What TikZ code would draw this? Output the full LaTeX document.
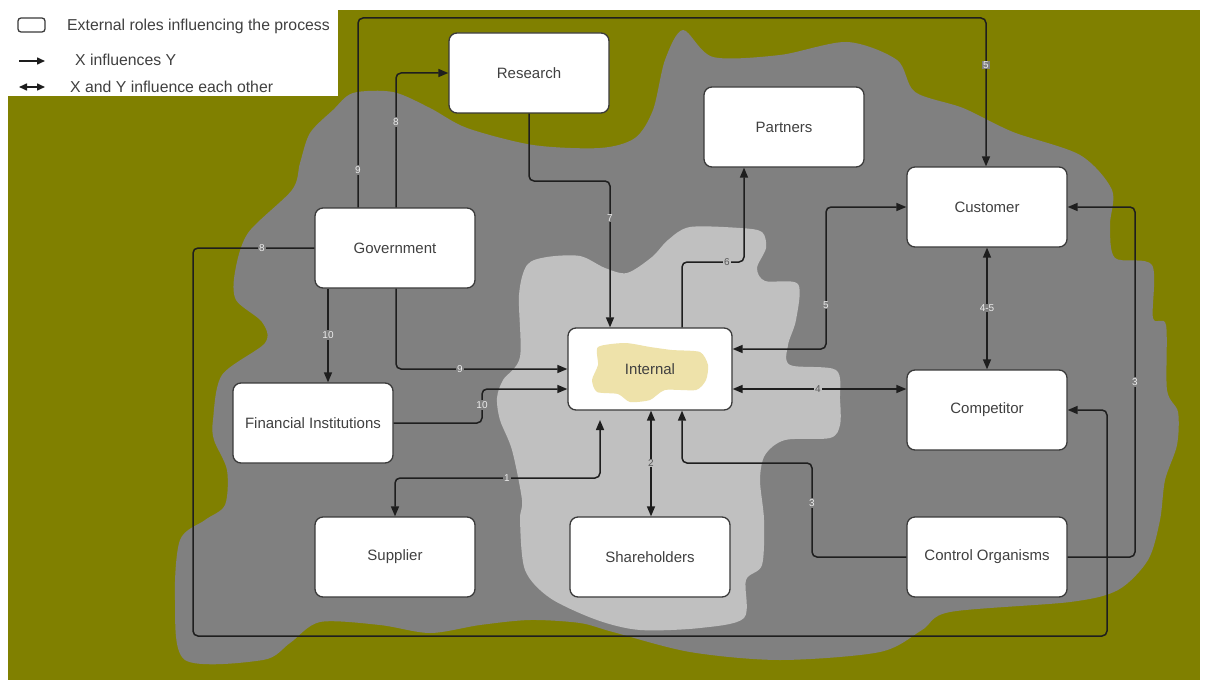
\documentclass[tikz,border=0pt]{standalone}
\usepackage{fontspec}
\setmainfont{Liberation Sans}
\usetikzlibrary{arrows.meta}
\definecolor{myolive}{HTML}{808000}
\definecolor{mygray}{HTML}{808080}
\definecolor{mylight}{HTML}{C0C0C0}
\definecolor{mytan}{HTML}{EEE2AA}
\definecolor{boxline}{HTML}{3A3A3A}
\definecolor{linec}{HTML}{1E1E1E}
\definecolor{txt}{HTML}{404040}
\tikzset{
  box/.style={draw=boxline, line width=1.3pt, fill=white, rounded corners=8pt,
    minimum width=160pt, minimum height=80pt, inner sep=2pt,
    font=\fontsize{15}{18}\selectfont, text=txt},
  conn/.style={draw=linec, line width=1.5pt, rounded corners=5pt},
  arr/.style={conn, -{Triangle[length=10pt,width=8pt]}},
  darr/.style={conn, {Triangle[length=10pt,width=8pt]}-{Triangle[length=10pt,width=8pt]}},
  lbl/.style={font=\fontsize{10}{11}\selectfont, text=white!85!gray, fill=mygray, inner sep=1pt},
  lbll/.style={font=\fontsize{10}{11}\selectfont, text=gray!70!black, fill=mylight, inner sep=1pt},
  legtxt/.style={font=\fontsize{15.8}{18}\selectfont, text=txt, anchor=west, inner sep=0pt}
}
\begin{document}
\begin{tikzpicture}[x=1pt,y=-1pt]
\useasboundingbox (0,0) rectangle (1206,682);
\fill[white] (0,0) rectangle (1206,682);
\fill[myolive] (8,10) rectangle (1200,680);
% dark gray region
\fill[mygray] plot[smooth cycle, tension=0.5] coordinates {
(353,93) (393,92) (430,108) (467,128) (533,145) (600,148) (635,138) (653,110) (665,60) (683,30)
(713,57) (780,55) (847,42) (897,60) (915,92) (963,108) (1013,132) (1080,155) (1112,190) (1110,225)
(1115,258) (1152,265) (1153,318) (1166,325) (1167,390) (1178,412) (1177,445) (1165,480) (1160,520)
(1148,560) (1118,590) (1070,602) (950,612) (922,630) (880,652) (780,660) (690,652) (613,632)
(580,623) (530,620) (480,625) (430,633) (380,625) (320,622) (290,643) (263,660) (185,660)
(175,600) (180,540) (205,520) (225,505) (227,470) (214,440) (213,420) (222,375) (265,343)
(262,322) (236,300) (235,272) (248,233) (292,190) (300,163) (310,133) (333,110)};
% light gray region
\fill[mylight] plot[smooth cycle, tension=0.5] coordinates {
(547,257) (580,256) (605,268) (627,273) (652,257) (668,240) (690,227) (740,228) (762,232)
(766,248) (757,268) (765,281) (798,284) (796,320) (788,345) (790,365) (836,370) (840,400)
(840,425) (830,438) (785,440) (765,455) (760,480) (764,520) (762,565) (746,580) (744,618)
(700,628) (640,630) (597,620) (550,598) (525,570) (520,520) (522,500) (512,450) (500,420)
(497,398) (503,380) (520,357) (519,295) (527,265)};
% legend
\fill[white] (8,10) rectangle (338,96);
\draw[boxline, line width=1.3pt, rounded corners=3pt] (18,18) rectangle (45,32);
\node[legtxt] (lg1) at (67,26) {External roles influencing the process};
\coordinate (la1) at (19,61);
\coordinate (la2) at (45,61);
\draw[conn, -{Triangle[length=8pt,width=7pt]}] (la1) -- (la2);
\node[legtxt] (lg2) at (75,60) {X influences Y};
\coordinate (lb1) at (19,87);
\coordinate (lb2) at (45,87);
\draw[conn, {Triangle[length=8pt,width=7pt]}-{Triangle[length=8pt,width=7pt]}] (lb1) -- (lb2);
\node[legtxt] (lg3) at (70,87) {X and Y influence each other};
% internal background and tan blob
\fill[white, rounded corners=8pt] (568,328) rectangle (732,410);
\fill[mytan] plot[smooth cycle, tension=0.4] coordinates {
(598,347) (625,343) (650,347) (672,350) (700,352) (708,365) (706,380) (696,390) (665,390)
(650,400) (630,402) (618,394) (597,392) (592,380) (598,365)};
% nodes
\node[box] (res) at (529,73) {Research};
\node[box] (par) at (784,127) {Partners};
\node[box] (cus) at (987,207) {Customer};
\node[box] (gov) at (395,248) {Government};
\node[box] (fin) at (313,423) {Financial Institutions};
\node[box, fill=none, minimum width=164pt, minimum height=82pt] (int) at (650,369) {Internal};
\node[box] (com) at (987,410) {Competitor};
\node[box] (sup) at (395,557) {Supplier};
\node[box] (sha) at (650,557) {Shareholders};
\node[box] (con) at (987,557) {Control Organisms};
% waypoints
\coordinate (c1a) at (358,18);
\coordinate (c1b) at (986,18);
\coordinate (c2a) at (396,73);
\coordinate (c3a) at (193,248);
\coordinate (c3b) at (193,636);
\coordinate (c3c) at (1107,636);
\coordinate (c3d) at (1107,410);
\coordinate (c4) at (328,335);
\coordinate (c5) at (396,369);
\coordinate (c6a) at (482,423);
\coordinate (c6b) at (482,389);
\coordinate (c7a) at (529,181);
\coordinate (c7b) at (610,181);
\coordinate (c8a) at (682,262);
\coordinate (c8b) at (744,262);
\coordinate (c9a) at (826,349);
\coordinate (c9b) at (826,207);
\coordinate (c10) at (818,389);
\coordinate (c12a) at (1135,557);
\coordinate (c12b) at (1135,207);
\coordinate (c13a) at (812,557);
\coordinate (c13b) at (812,463);
\coordinate (c13c) at (682,463);
\coordinate (c14a) at (395,478);
\coordinate (c14b) at (600,478);
\coordinate (c14c) at (600,420);
\coordinate (c15) at (651,463);
% connectors
\draw[arr] (gov.north -| c1a) -- (c1a) -- (c1b) -- (cus.north -| c1b);
\draw[arr] (gov.north -| c2a) -- (c2a) -- (res.west);
\draw[arr] (gov.west) -- (c3a) -- (c3b) -- (c3c) -- (c3d) -- (com.east);
\draw[arr] (gov.south -| c4) -- (fin.north -| c4);
\draw[arr] (gov.south -| c5) -- (c5) -- (int.west |- c5);
\draw[arr] (fin.east) -- (c6a) -- (c6b) -- (int.west |- c6b);
\draw[arr] (res.south) -- (c7a) -- (c7b) -- (int.north -| c7b);
\draw[arr] (int.north -| c8a) -- (c8a) -- (c8b) -- (par.south -| c8b);
\draw[darr] (int.east |- c9a) -- (c9a) -- (c9b) -- (cus.west);
\draw[darr] (int.east |- c10) -- (com.west |- c10);
\draw[darr] (cus.south) -- (com.north);
\draw[arr] (con.east) -- (c12a) -- (c12b) -- (cus.east);
\draw[arr] (con.west) -- (c13a) -- (c13b) -- (c13c) -- (int.south -| c13c);
\draw[darr] (sup.north) -- (c14a) -- (c14b) -- (c14c);
\draw[darr] (int.south -| c15) -- (sha.north -| c15);
% labels
\node[lbl] (l1) at (986,65) {5};
\node[lbl] (l2) at (396,122) {8};
\node[lbl] (l3) at (358,170) {9};
\node[lbl] (l4) at (262,248) {8};
\node[lbl] (l5) at (328,335) {10};
\node[lbl] (l6) at (460,369) {9};
\node[lbl] (l7) at (482,405) {10};
\node[lbl] (l8) at (610,218) {7};
\node[lbll] (l9) at (727,262) {6};
\node[lbl] (l10) at (826,305) {5};
\node[lbll] (l11) at (818,389) {4};
\node[lbl] (l12) at (987,308) {4-5};
\node[lbl] (l13) at (1135,382) {3};
\node[lbl] (l14) at (812,503) {3};
\node[lbl] (l15) at (507,478) {1};
\node[lbll] (l16) at (651,463) {2};
\end{tikzpicture}
\end{document}
